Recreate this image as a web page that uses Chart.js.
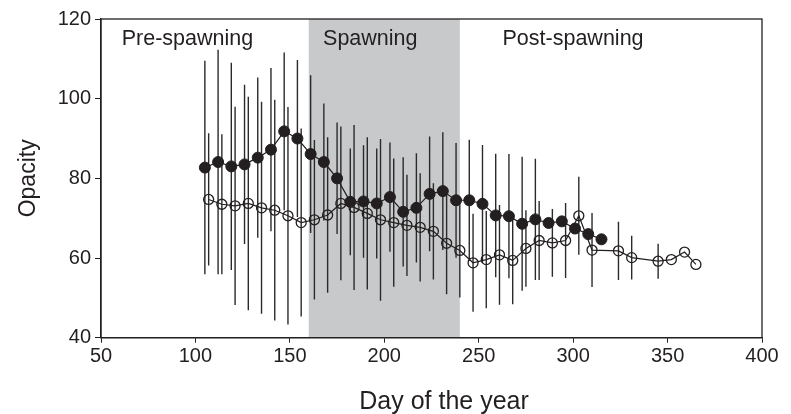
<!DOCTYPE html>
<html><head><meta charset="utf-8">
<script src="https://cdn.jsdelivr.net/npm/chart.js@4/dist/chart.umd.min.js"></script>
<style>html,body{margin:0;padding:0;background:#fff;}#wrap{width:791px;height:414px;}</style>
</head><body><div id="wrap"><canvas id="c" width="791" height="414"></canvas></div>
<script>
// ---- data ----
const xTickValues = [50, 100, 150, 200, 250, 300, 350, 400];
const yTickValues = [40, 60, 80, 100, 120];

const filledDays = [105,112,119,126,133,140,147,154,161,168,175,182,189,196,203,210,217,224,231,238,245,252,259,266,273,280,287,294,301,308,315];
const filledMean = [82.7,84.1,83.0,83.5,85.2,87.2,91.8,90.0,86.1,84.1,80.0,74.1,74.2,73.7,75.3,71.6,72.6,76.1,76.8,74.5,74.5,73.6,70.7,70.5,68.6,69.7,68.8,69.2,67.4,66.0,64.7];
const filledSD = [26.8,28.2,26.0,20.0,20.1,20.5,19.8,19.7,19.8,14.7,14.0,13.4,14.1,13.8,13.7,13.7,13.7,14.4,14.8,14.4,15.2,14.8,15.5,15.6,16.8,15.2,0,0,0,0,0];

const openDays = [107,114,121,128,135,142,149,156,163,170,177,184,191,198,205,212,219,226,233,240,247,254,261,268,275,282,289,296,303,310,324,331,345,352,359,365];
const openMean = [74.7,73.5,73.1,73.7,72.6,72.0,70.6,68.9,69.6,70.8,73.7,72.7,71.2,69.6,68.9,68.2,67.7,66.7,63.7,61.9,58.8,59.6,60.8,59.4,62.4,64.4,63.8,64.4,70.6,62.0,61.8,60.1,59.2,59.6,61.5,58.4];
const openSD = [16.6,17.6,24.9,26.8,26.6,27.7,27.3,23.6,20.0,19.5,19.3,20.7,19.1,20.3,16.1,12.7,13.6,12.1,12.8,11.8,12.3,12.2,12.5,11.0,9.6,9.9,8.5,9.4,9.8,9.3,7.3,5.5,4.4,0,0,0];

const spawnStart = 160, spawnEnd = 240;
const phaseNames = ['Pre-spawning', 'Spawning', 'Post-spawning'];
const xTitle = 'Day of the year';
const yTitle = 'Opacity';

// ---- build ----
const ink = '#231f20';
const fam = '"Liberation Sans", Arial, Helvetica, sans-serif';

function pts(days, vals) { return days.map((d, i) => ({x: d, y: vals[i]})); }
function bars(days, vals, sds) {
  const out = [];
  days.forEach((d, i) => {
    if (!sds[i]) return;
    out.push({x: d, y: vals[i] - sds[i]}, {x: d, y: vals[i] + sds[i]}, {x: d, y: null});
  });
  return out;
}

const deco = {
  id: 'deco',
  beforeDatasetsDraw(chart) {
    const {ctx, chartArea: a, scales: {x}} = chart;
    const x0 = x.getPixelForValue(spawnStart), x1 = x.getPixelForValue(spawnEnd);
    ctx.save();
    ctx.fillStyle = '#c8c9cb';
    ctx.fillRect(x0, a.top, x1 - x0, a.bottom - a.top);
    ctx.fillStyle = ink;
    ctx.font = '21.5px ' + fam;
    ctx.textAlign = 'left';
    ctx.textBaseline = 'alphabetic';
    const by = a.top + 25.5;
    ctx.fillText(phaseNames[0], a.left + 20.7, by);
    ctx.fillText(phaseNames[1], x0 + 14.3, by);
    ctx.fillText(phaseNames[2], x1 + 42.7, by);
    ctx.restore();
  },
  afterDraw(chart) {
    const {ctx, chartArea: a} = chart;
    ctx.save();
    ctx.strokeStyle = ink;
    ctx.lineWidth = 1.3;
    ctx.strokeRect(a.left, a.top, a.right - a.left, a.bottom - a.top);
    ctx.fillStyle = ink;
    ctx.textAlign = 'center';
    ctx.textBaseline = 'alphabetic';
    ctx.font = '25px ' + fam;
    ctx.fillText(xTitle, 444, 408.5);
    ctx.font = '23px ' + fam;
    ctx.translate(35, (a.top + a.bottom) / 2);
    ctx.rotate(-Math.PI / 2);
    ctx.fillText(yTitle, 0, 0);
    ctx.restore();
  }
};

new Chart(document.getElementById('c'), {
  type: 'line',
  data: {
    datasets: [
      {
        data: pts(filledDays, filledMean),
        borderColor: ink, borderWidth: 1.2, tension: 0,
        pointRadius: 5.5, pointBackgroundColor: ink, pointBorderColor: ink, pointBorderWidth: 1,
        order: 1
      },
      {
        data: pts(openDays, openMean),
        borderColor: ink, borderWidth: 1.2, tension: 0,
        pointRadius: 5, pointBackgroundColor: 'rgba(0,0,0,0)', pointBorderColor: ink, pointBorderWidth: 1.3,
        order: 2
      },
      {
        data: bars(filledDays, filledMean, filledSD).concat(bars(openDays, openMean, openSD)),
        borderColor: '#2a2a2a', borderWidth: 1.4, pointRadius: 0, spanGaps: false, tension: 0,
        order: 3
      }
    ]
  },
  options: {
    responsive: false, animation: false, devicePixelRatio: 1,
    layout: {padding: {left: 0, right: 29, top: 19, bottom: 0}},
    plugins: {legend: {display: false}, tooltip: {enabled: false}},
    scales: {
      x: {
        type: 'linear', min: 50, max: 400,
        afterBuildTicks: s => { s.ticks = xTickValues.map(v => ({value: v})); },
        afterFit: s => { s.height = 76.3; },
        grid: {drawOnChartArea: false, drawTicks: true, tickLength: 5, color: ink, lineWidth: 1},
        border: {display: true, color: ink, width: 1.3},
        ticks: {color: ink, font: {size: 20, family: fam}, padding: 2, maxRotation: 0, autoSkip: false}
      },
      y: {
        type: 'linear', min: 40, max: 120,
        afterBuildTicks: s => { s.ticks = yTickValues.map(v => ({value: v})); },
        afterFit: s => { s.width = 101; },
        grid: {drawOnChartArea: false, drawTicks: true, tickLength: 6, color: ink, lineWidth: 1},
        border: {display: true, color: ink, width: 1.3},
        ticks: {color: ink, font: {size: 20, family: fam}, padding: 4, autoSkip: false}
      }
    }
  },
  plugins: [deco]
});
</script>
</body></html>
